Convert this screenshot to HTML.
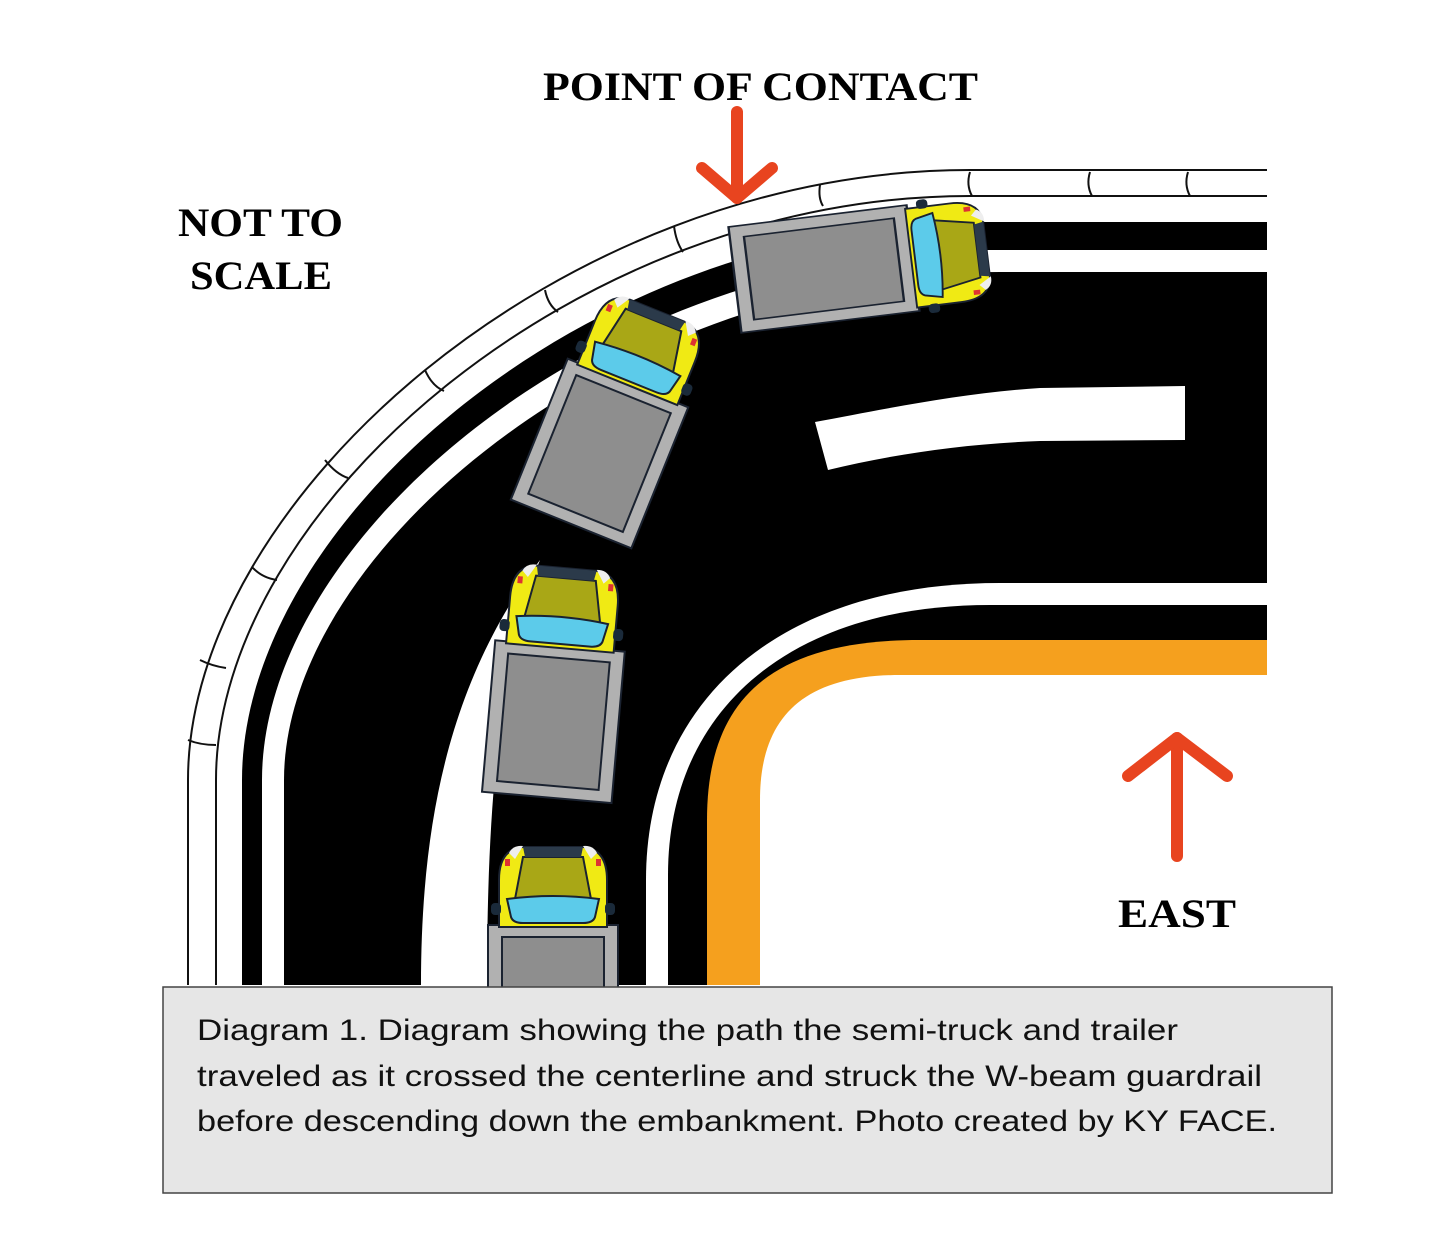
<!DOCTYPE html>
<html><head><meta charset="utf-8"><style>
html,body{margin:0;padding:0;background:#fff;width:1440px;height:1250px;overflow:hidden}
svg{display:block}
</style></head><body>
<svg width="1440" height="1250" viewBox="0 0 1440 1250" xmlns="http://www.w3.org/2000/svg">
<defs>
<g id="cab">
  <path d="M-54,2 L-54,-45 Q-54,-76 -30,-78 L30,-78 Q54,-76 54,-45 L54,2 Z" fill="#f0ea14" stroke="#1a2230" stroke-width="2"/>
  <rect x="-62" y="-22" width="10" height="12" rx="4" fill="#1a2a3a"/>
  <rect x="52" y="-22" width="10" height="12" rx="4" fill="#1a2a3a"/>
  <path d="M-30,-68 L30,-68 L38,-26 L-38,-26 Z" fill="#a9a716" stroke="#1a2230" stroke-width="2"/>
  <path d="M-30,-78 L30,-78 L28,-68 L-28,-68 Z" fill="#2b3a4a"/>
  <path d="M-44,-72 Q-40,-80 -30,-79 L-38,-66 Z" fill="#eee"/>
  <path d="M44,-72 Q40,-80 30,-79 L38,-66 Z" fill="#eee"/>
  <rect x="-48" y="-66" width="5" height="7" fill="#d33"/>
  <rect x="43" y="-66" width="5" height="7" fill="#d33"/>
  <path d="M-46,-26 Q0,-32 46,-26 L42,-8 Q40,-2 30,-2 L-30,-2 Q-40,-2 -42,-8 Z" fill="#5ccbea" stroke="#1a2230" stroke-width="2"/>
</g>
<g id="trailer">
  <rect x="-65" y="0" width="130" height="152" fill="#b1b1b1" stroke="#1a2230" stroke-width="2"/>
  <rect x="-51" y="12" width="102" height="128" fill="#8e8e8e" stroke="#1a2230" stroke-width="2"/>
</g>
</defs>

<!-- road layers outer -->
<path d="M242,985 L242,780 C242,520 590,222 980,222 L1267,222 L1267,985 Z" fill="#000"/>
<path d="M262,985 L262,780 C262,535 605,250 990,250 L1267,250 L1267,985 Z" fill="#fff"/>
<path d="M284,985 L284,780 C284,550 620,272 1000,272 L1267,272 L1267,985 Z" fill="#000"/>
<!-- centerline dash -->
<path d="M815,422 C880,410 960,393 1040,388 L1185,386 L1185,440 L1040,441 C960,444 890,455 828,470 Z" fill="#fff"/>
<!-- left wedge -->
<path d="M421,985 C421,820 450,680 540,560 C500,660 487,800 487,985 Z" fill="#fff"/>
<!-- inner layers -->
<path d="M646,985 L646,880 C646,700 780,583 1000,583 L1267,583 L1267,985 Z" fill="#fff"/>
<path d="M668,985 L668,875 C668,710 790,605 990,605 L1267,605 L1267,985 Z" fill="#000"/>
<path d="M707,985 L707,820 C707,700 770,640 920,640 L1267,640 L1267,985 Z" fill="#f5a01e"/>
<path d="M760,985 L760,800 C760,720 800,675 900,675 L1267,675 L1267,985 Z" fill="#fff"/>

<!-- guardrail -->
<g fill="none" stroke="#111" stroke-width="2">
<path d="M188,985 L188,780 C188,500 560,170 970,170 L1267,170"/>
<path d="M216,985 L216,780 C216,510 575,196 970,196 L1267,196"/>
<path d="M188,740 Q200,745 216,745"/>
<path d="M200,660 Q212,666 226,668"/>
<path d="M252,567 Q262,578 277,580"/>
<path d="M325,460 Q336,474 348,478"/>
<path d="M425,370 Q432,386 444,391"/>
<path d="M545,290 Q548,305 558,312"/>
<path d="M674,226 Q676,242 683,252"/>
<path d="M820,185 Q818,198 823,206"/>
<path d="M970,172 Q966,185 972,196"/>
<path d="M1090,172 Q1086,185 1092,196"/>
<path d="M1188,172 Q1184,185 1190,196"/>
</g>

<!-- trucks -->
<g transform="translate(553,925)"><use href="#trailer"/><use href="#cab"/></g>
<g transform="translate(560,646) rotate(5)"><use href="#trailer"/><use href="#cab"/></g>
<g transform="translate(628,383) rotate(22)"><use href="#trailer"/><use href="#cab"/></g>
<g transform="translate(913,258) rotate(83) scale(0.82,1.18)"><use href="#trailer"/></g>
<g transform="translate(913,258) rotate(83) scale(0.92,0.95)"><use href="#cab"/></g>

<!-- arrows -->
<g stroke="#e8441f" stroke-width="12" stroke-linecap="round" stroke-linejoin="round" fill="none">
<path d="M737,112 L737,198"/>
<path d="M702,168 L737,198 L772,168"/>
<path d="M1177,856 L1177,738"/>
<path d="M1128,776 L1177,738 L1227,776"/>
</g>

<!-- labels -->
<g font-family="'Liberation Serif',serif" font-weight="bold" fill="#000">
<text x="543" y="100" font-size="40" textLength="435" lengthAdjust="spacingAndGlyphs">POINT OF CONTACT</text>
<text x="178" y="236" font-size="40" textLength="165" lengthAdjust="spacingAndGlyphs">NOT TO</text>
<text x="190" y="289" font-size="40" textLength="142" lengthAdjust="spacingAndGlyphs">SCALE</text>
<text x="1118" y="927" font-size="40" textLength="118" lengthAdjust="spacingAndGlyphs">EAST</text>
</g>

<!-- caption -->
<rect x="163" y="987" width="1169" height="206" fill="#e6e6e6" stroke="#444" stroke-width="1.5"/>
<g font-family="'Liberation Sans',sans-serif" font-size="30" fill="#111">
<text x="197" y="1040" textLength="981" lengthAdjust="spacingAndGlyphs">Diagram 1. Diagram showing the path the semi-truck and trailer</text>
<text x="197" y="1086" textLength="1065" lengthAdjust="spacingAndGlyphs">traveled as it crossed the centerline and struck the W-beam guardrail</text>
<text x="197" y="1131" textLength="1080" lengthAdjust="spacingAndGlyphs">before descending down the embankment. Photo created by KY FACE.</text>
</g>
</svg>
</body></html>
